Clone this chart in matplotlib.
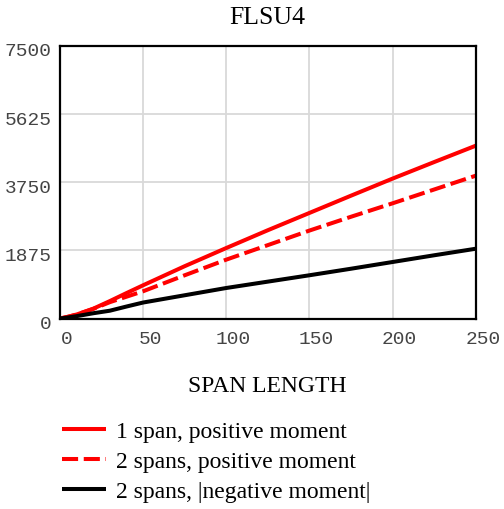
import numpy as np
import matplotlib.pyplot as plt
import matplotlib.transforms as mtransforms

# Momentos vs longitud de vano
span_length = [0, 5, 10, 20, 30, 40, 50, 75, 100, 125, 150, 175, 200, 225, 250]
one_span_pos = [0, 50, 110, 270, 480, 700, 915, 1440, 1940, 2430, 2905, 3380, 3850, 4305, 4755]
two_span_pos = [0, 50, 110, 265, 450, 600, 750, 1190, 1620, 2020, 2420, 2800, 3170, 3550, 3930]
two_span_neg = [0, 30, 65, 145, 215, 330, 440, 640, 840, 1015, 1190, 1370, 1555, 1740, 1920]

x_ticks = [0, 50, 100, 150, 200, 250]
y_ticks = [0, 1875, 3750, 5625, 7500]

serif = 'Liberation Serif'
mono = 'Liberation Mono'

fig = plt.figure(figsize=(5.04, 5.10), dpi=100)
ax = fig.add_axes([0.119, 0.3735, 0.825, 0.5345])

ax.plot(span_length, one_span_pos, color='red', lw=2.9, solid_capstyle='butt',
        label='1 span, positive moment')
ax.plot(span_length, two_span_pos, color='red', lw=2.9, dashes=(4, 1.4),
        dash_capstyle='butt', label='2 spans, positive moment')
ax.plot(span_length, two_span_neg, color='black', lw=2.9, solid_capstyle='butt',
        label='2 spans, |negative moment|')

ax.set_xlim(0, 250)
ax.set_ylim(0, 7500)
ax.set_xticks(x_ticks)
ax.set_yticks(y_ticks)
ax.grid(True, color='#d9d9d9', lw=1.3)
ax.set_axisbelow(True)
for s in ax.spines.values():
    s.set_linewidth(1.6)
    s.set_color('black')

ax.tick_params(length=0, labelcolor='#444444', labelsize=14)
ax.tick_params(axis='x', pad=8)
ax.tick_params(axis='y', pad=6)
for lab in ax.get_xticklabels() + ax.get_yticklabels():
    lab.set_fontfamily(mono)
# etiquetas del eje x un poco corridas a la derecha
shift = mtransforms.ScaledTranslation(7 / 100, 0, fig.dpi_scale_trans)
for lab in ax.get_xticklabels():
    lab.set_transform(lab.get_transform() + shift)
shift_y = mtransforms.ScaledTranslation(0, -3 / 100, fig.dpi_scale_trans)
for lab in ax.get_yticklabels():
    lab.set_transform(lab.get_transform() + shift_y)

fig.text(0.531, 0.964, 'FLSU4', family=serif, fontsize=18.5, ha='center', va='center')
fig.text(0.531, 0.243, 'SPAN LENGTH', family=serif, fontsize=17, ha='center', va='center')

leg = fig.legend(loc='upper left', bbox_to_anchor=(0.123, 0.173), frameon=False,
                 prop={'family': serif, 'size': 17}, handlelength=1.85,
                 handletextpad=0.42, labelspacing=0.36, borderpad=0, borderaxespad=0)

fig.savefig('out.png', dpi=100)
